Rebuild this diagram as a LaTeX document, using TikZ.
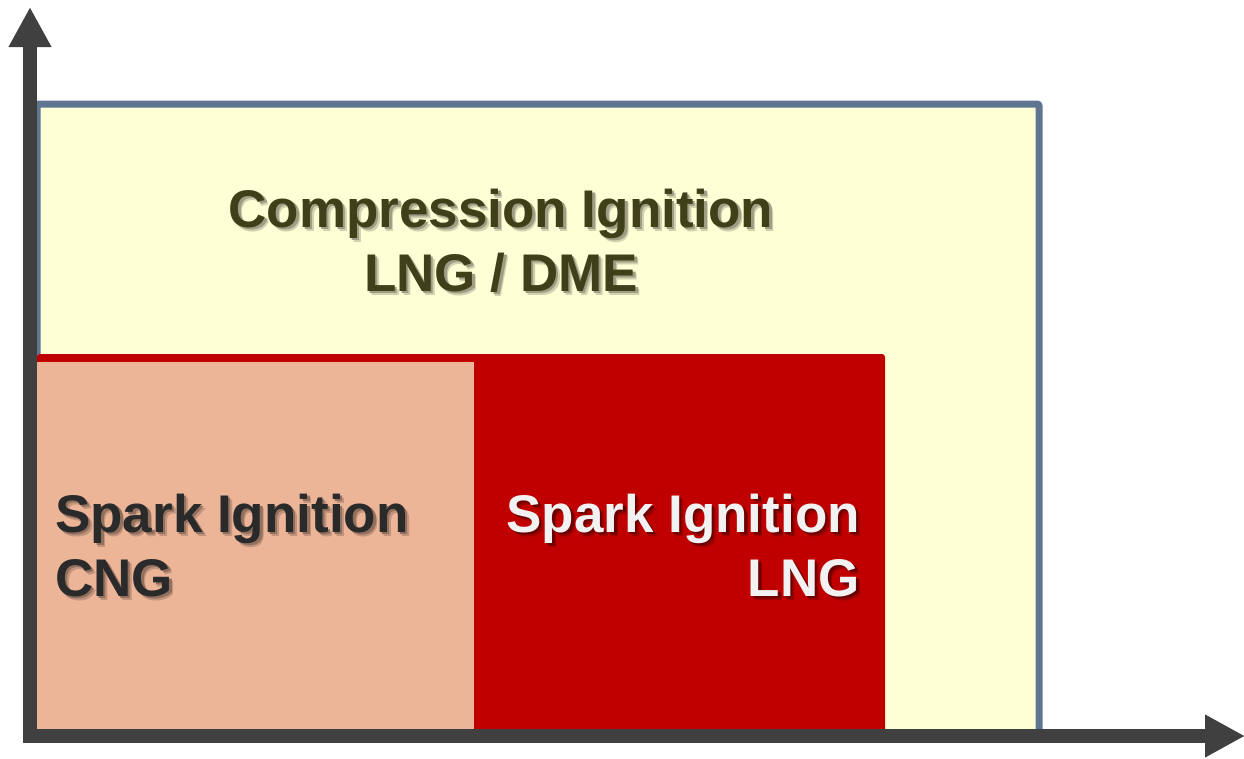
\documentclass[tikz,border=0pt]{standalone}
\usepackage{fontspec}
\setmainfont{Liberation Sans}
\usetikzlibrary{arrows.meta}

\definecolor{regionfill}{HTML}{FFFFD5}
\definecolor{regionframe}{HTML}{5F7591}
\definecolor{lngred}{HTML}{C00000}
\definecolor{cngpeach}{HTML}{ECB598}
\definecolor{axisgray}{HTML}{404040}
\definecolor{olivetext}{HTML}{3F3F1A}
\definecolor{darktext}{HTML}{2A2A2A}
\definecolor{lighttext}{HTML}{F2F2F2}

% soft drop shadows, mixed with the colour of the area behind each label
\colorlet{yshadowA}{regionfill!82!black}
\colorlet{yshadowB}{regionfill!62!black}
\colorlet{pshadowA}{cngpeach!82!black}
\colorlet{pshadowB}{cngpeach!62!black}
\colorlet{rshadowA}{lngred!80!black}
\colorlet{rshadowB}{lngred!55!black}

% #1 outer shadow colour, #2 inner shadow colour, #3 text
\newcommand{\shadowed}[3]{%
  \rlap{\color{#1}\hspace{4pt}\raisebox{-4pt}{#3}}%
  \rlap{\color{#2}\hspace{2.5pt}\raisebox{-2.5pt}{#3}}%
  #3}

\begin{document}
\begin{tikzpicture}[x=1pt,y=-1pt,
  region/.style={fill=regionfill,draw=regionframe,line width=7pt,rounded corners=2pt},
  bigtxt/.style={inner sep=0pt,font=\fontsize{53}{64}\selectfont\bfseries},
  axisline/.style={draw=axisgray,line width=13.5pt,line join=miter,
    arrows={Triangle[length=40pt,width=40pt,fill=axisgray]-Triangle[length=40pt,width=40pt,fill=axisgray]}}
]
\useasboundingbox (0,0) rectangle (1244,758);

% operating regions
\path[region] (37,104) rectangle (1039,736);
\path[fill=lngred,rounded corners=3pt] (37,354) rectangle (885,736);
\path[fill=cngpeach] (37,362) rectangle (474,736);

% compression ignition label
\node[bigtxt,text=olivetext,anchor=base] (ci1) at (501,227)
  {\shadowed{yshadowA}{yshadowB}{Compression Ignition}};
\node[bigtxt,text=olivetext,anchor=base] (ci2) at (501,291)
  {\shadowed{yshadowA}{yshadowB}{LNG / DME}};

% spark ignition CNG label
\node[bigtxt,text=darktext,anchor=base west] (cng1) at (55,532)
  {\shadowed{pshadowA}{pshadowB}{Spark Ignition}};
\node[bigtxt,text=darktext,anchor=base west] (cng2) at (55,596)
  {\shadowed{pshadowA}{pshadowB}{CNG}};

% spark ignition LNG label
\node[bigtxt,text=lighttext,anchor=base east] (lng1) at (860,532)
  {\shadowed{rshadowA}{rshadowB}{Spark Ignition}};
\node[bigtxt,text=lighttext,anchor=base east] (lng2) at (860,596)
  {\shadowed{rshadowA}{rshadowB}{LNG}};

% axes
\coordinate (ytip) at (30,7);
\coordinate (origin) at (30,736);
\coordinate (xtip) at (1245,736);
\draw[axisline] (ytip) -- (origin) -- (xtip);
\end{tikzpicture}
\end{document}
